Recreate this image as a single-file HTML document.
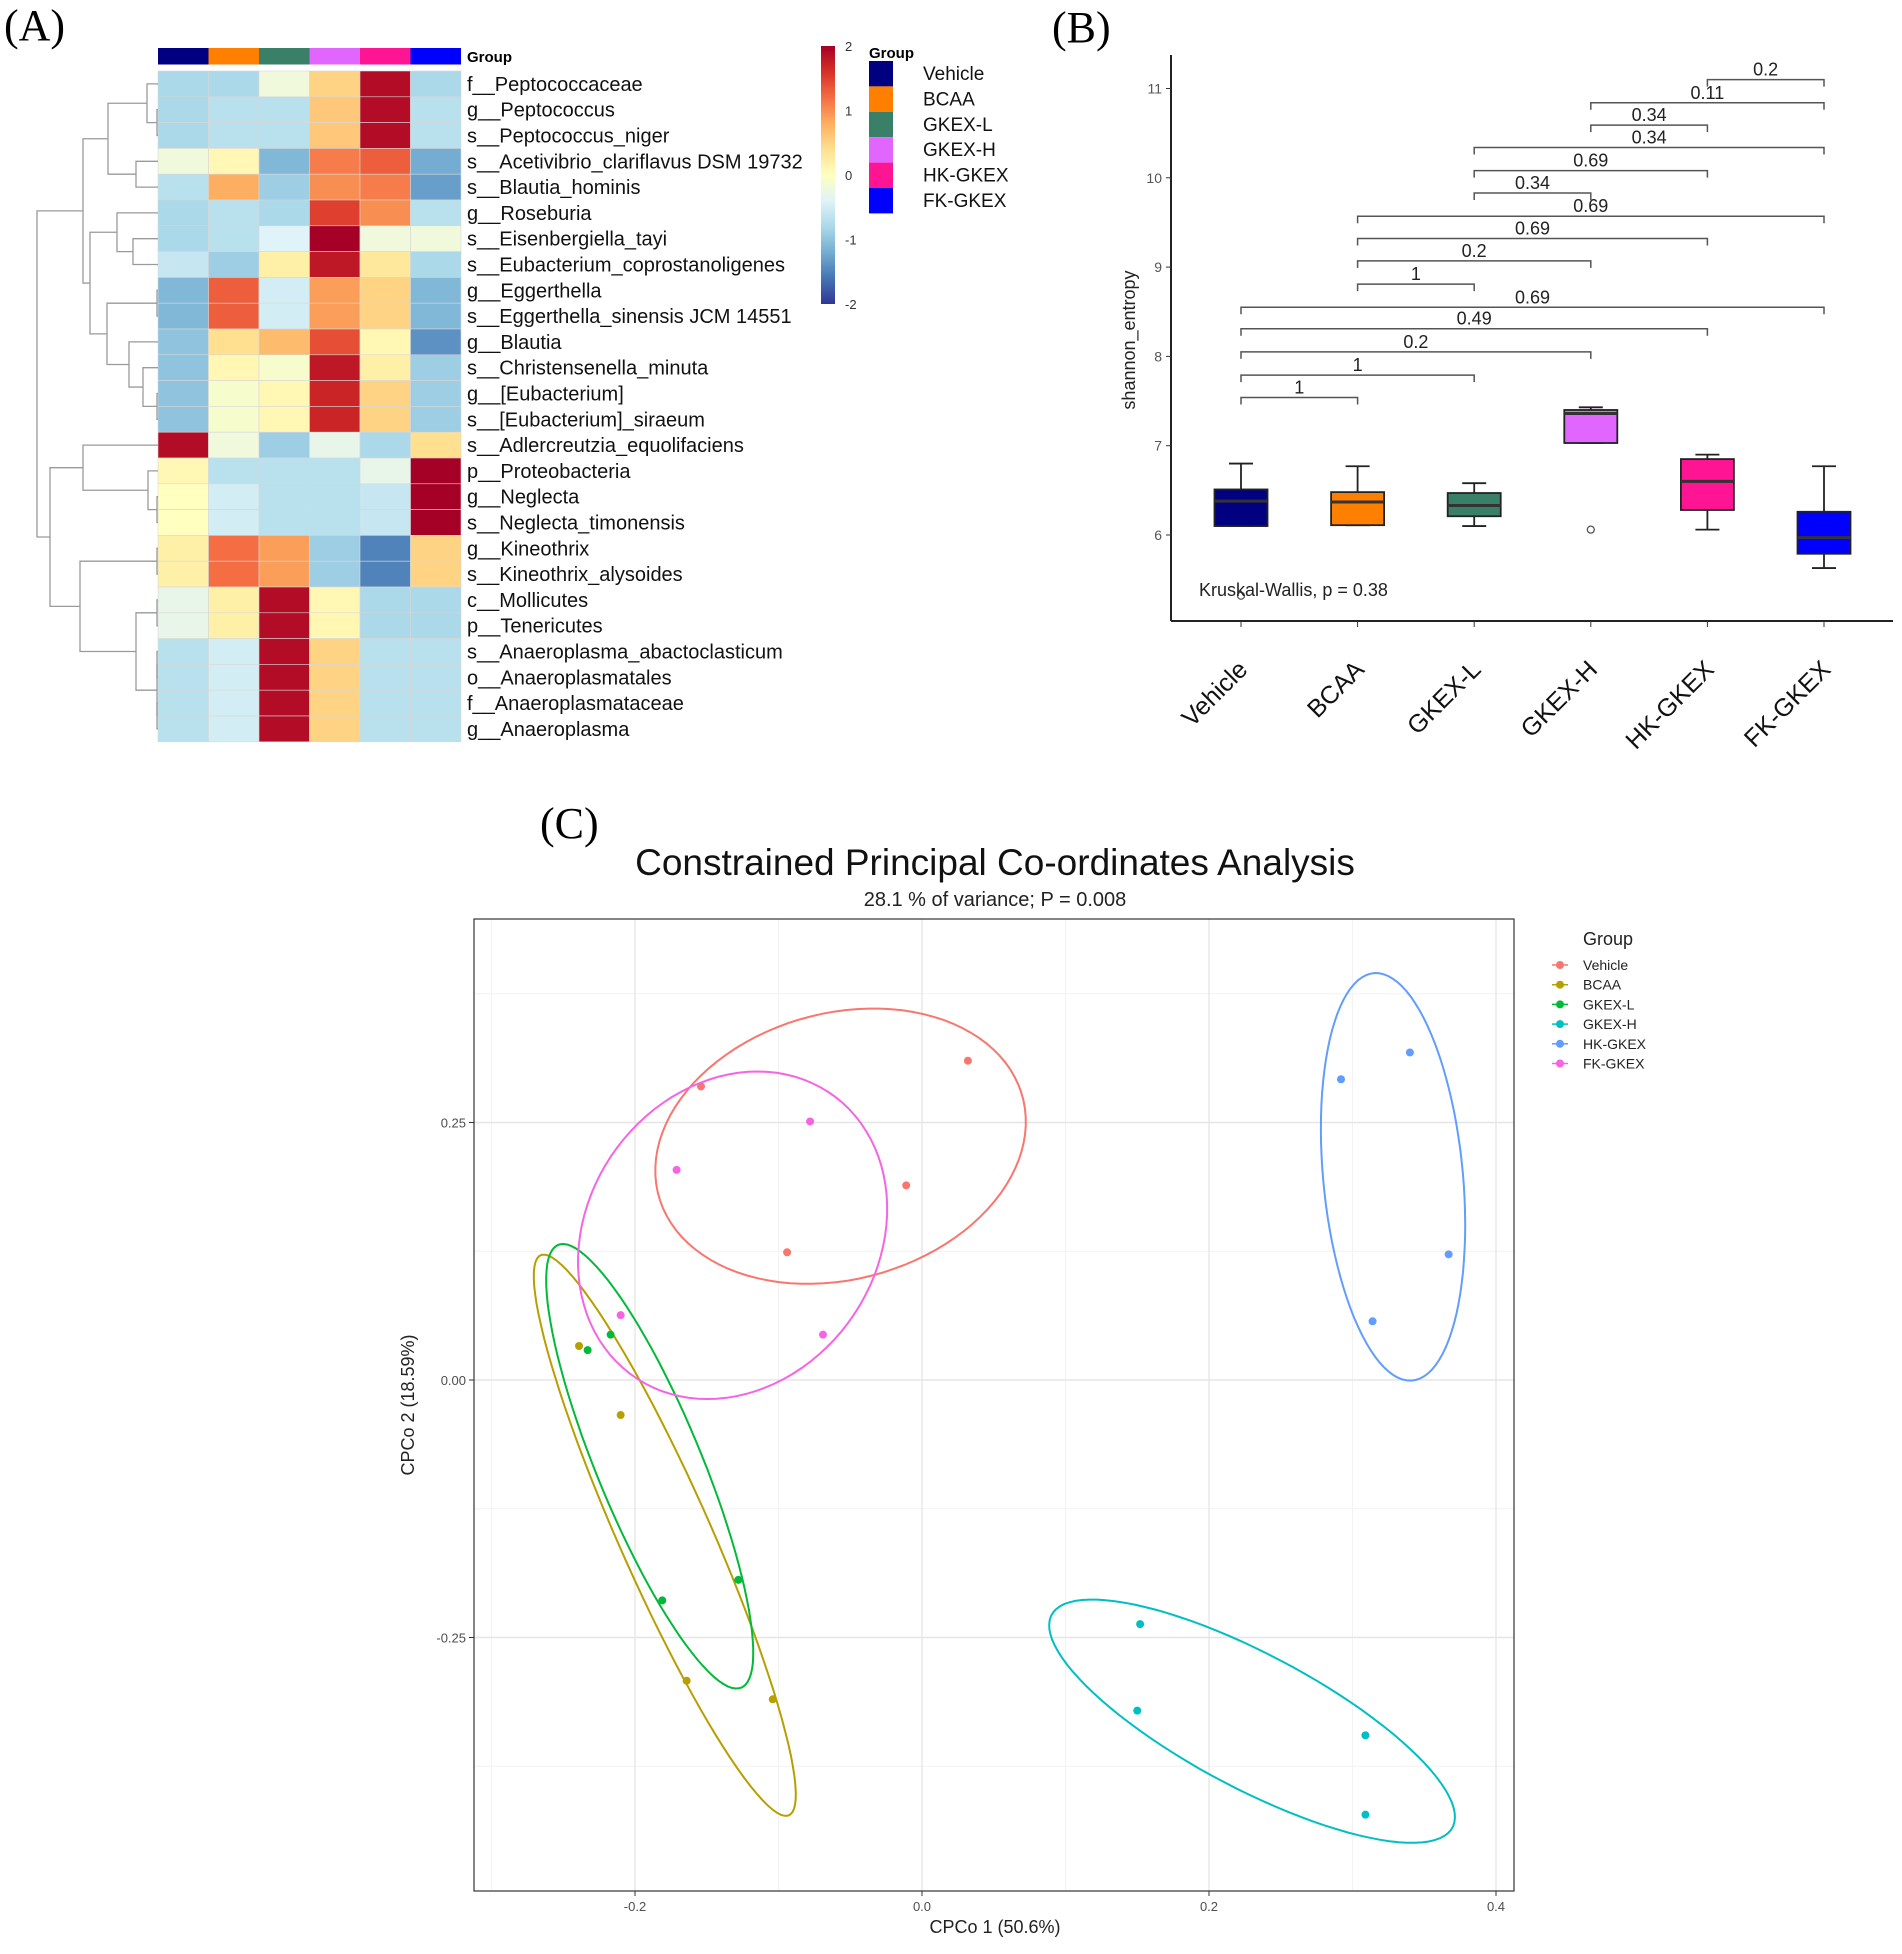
<!DOCTYPE html>
<html><head><meta charset="utf-8"><style>
html,body{margin:0;padding:0;background:#fff;}
svg text{font-family:"Liberation Sans",sans-serif;}
</style></head><body>
<svg id="fig" width="1902" height="1949" viewBox="0 0 1902 1949" xmlns="http://www.w3.org/2000/svg">
<rect width="1902" height="1949" fill="#fff"/>
<text x="4" y="40" style="font-family:'Liberation Serif',serif" font-size="44">(A)</text>
<text x="1052" y="42" style="font-family:'Liberation Serif',serif" font-size="44">(B)</text>
<text x="540" y="838" style="font-family:'Liberation Serif',serif" font-size="44">(C)</text>
<g id="pa"></g>
<g id="pb"></g>
<g id="pc"></g>
</svg>
<script>
// ---------- Panel A data ----------
const hmGroups = ["Vehicle","BCAA","GKEX-L","GKEX-H","HK-GKEX","FK-GKEX"];
const hmGroupColors = ["#000080","#FF7F00","#3A8068","#E066FF","#FF1493","#0000FF"];
const hmRows = ["f__Peptococcaceae","g__Peptococcus","s__Peptococcus_niger","s__Acetivibrio_clariflavus DSM 19732","s__Blautia_hominis","g__Roseburia","s__Eisenbergiella_tayi","s__Eubacterium_coprostanoligenes","g__Eggerthella","s__Eggerthella_sinensis JCM 14551","g__Blautia","s__Christensenella_minuta","g__[Eubacterium]","s__[Eubacterium]_siraeum","s__Adlercreutzia_equolifaciens","p__Proteobacteria","g__Neglecta","s__Neglecta_timonensis","g__Kineothrix","s__Kineothrix_alysoides","c__Mollicutes","p__Tenericutes","s__Anaeroplasma_abactoclasticum","o__Anaeroplasmatales","f__Anaeroplasmataceae","g__Anaeroplasma"];
const hmValues = [
[-0.8,-0.8,-0.2,0.5,1.9,-0.8],
[-0.8,-0.7,-0.7,0.6,1.9,-0.7],
[-0.8,-0.7,-0.7,0.6,1.9,-0.7],
[-0.2,0.1,-1.1,1.1,1.3,-1.2],
[-0.7,0.8,-0.9,1.0,1.1,-1.3],
[-0.8,-0.7,-0.8,1.5,1.0,-0.7],
[-0.8,-0.7,-0.4,2.0,-0.2,-0.2],
[-0.6,-0.9,0.2,1.8,0.3,-0.8],
[-1.1,1.3,-0.5,0.9,0.5,-1.1],
[-1.1,1.3,-0.5,0.9,0.5,-1.1],
[-1.0,0.4,0.7,1.4,0.1,-1.4],
[-1.0,0.1,-0.1,1.8,0.2,-0.9],
[-1.0,-0.1,0.1,1.7,0.5,-0.9],
[-1.0,-0.1,0.1,1.7,0.5,-0.9],
[1.9,-0.2,-0.9,-0.3,-0.8,0.4],
[0.1,-0.7,-0.7,-0.7,-0.3,2.0],
[0.0,-0.5,-0.7,-0.7,-0.6,2.0],
[0.0,-0.5,-0.7,-0.7,-0.6,2.0],
[0.2,1.2,0.9,-0.9,-1.5,0.5],
[0.2,1.2,0.9,-0.9,-1.5,0.5],
[-0.3,0.2,1.9,0.1,-0.8,-0.8],
[-0.3,0.2,1.9,0.1,-0.8,-0.8],
[-0.7,-0.5,1.9,0.5,-0.7,-0.7],
[-0.7,-0.5,1.9,0.5,-0.7,-0.7],
[-0.7,-0.5,1.9,0.5,-0.7,-0.7],
[-0.7,-0.5,1.9,0.5,-0.7,-0.7]];
const cbTicks = [2,1,0,-1,-2];
const hmTree = [37,
 [83,[108,[147,0,[157,1,2]],[136,3,4]],[90,[117,5,[133,6,7]],[107,[157,8,9],[129,10,[143,11,[157,12,13]]]]]],
 [50,[83,14,[148,15,[157,16,17]]],[80,[157,18,19],[136,[157,20,21],[157,[157,22,23],[157,24,25]]]]]];

// ---------- Panel B data ----------
const bxGroups = ["Vehicle","BCAA","GKEX-L","GKEX-H","HK-GKEX","FK-GKEX"];
const bxColors = ["#000080","#FF7F00","#3A8068","#E066FF","#FF1493","#0000FF"];
const bxLow = [6.10,6.11,6.10,7.03,6.06,5.63];
const bxQ1 = [6.10,6.11,6.21,7.03,6.28,5.79];
const bxMed = [6.38,6.37,6.33,7.36,6.60,5.97];
const bxQ3 = [6.51,6.48,6.47,7.40,6.85,6.26];
const bxHigh = [6.80,6.77,6.58,7.43,6.90,6.77];
const bxOutGroup = [0,3];
const bxOutVal = [5.32,6.06];
const yTicksB = [6,7,8,9,10,11];
const brFrom = [0,0,0,0,0,1,1,1,1,2,2,2,3,3,4];
const brTo   = [1,2,3,4,5,2,3,4,5,3,4,5,4,5,5];
const brY    = [7.54,7.79,8.05,8.31,8.55,8.81,9.07,9.32,9.57,9.83,10.08,10.34,10.59,10.84,11.10];
const brLabel= ["1","1","0.2","0.49","0.69","1","0.2","0.69","0.69","0.34","0.69","0.34","0.34","0.11","0.2"];

// ---------- Panel C data ----------
const cGroups = ["Vehicle","BCAA","GKEX-L","GKEX-H","HK-GKEX","FK-GKEX"];
const cColors = ["#F8766D","#B79F00","#00BA38","#00BFC4","#619CFF","#F564E3"];
const cX = [
 [-0.154,0.032,-0.011,-0.094],
 [-0.239,-0.210,-0.164,-0.104],
 [-0.233,-0.217,-0.181,-0.128],
 [0.152,0.150,0.309,0.309],
 [0.292,0.340,0.367,0.314],
 [-0.078,-0.171,-0.210,-0.069]];
const cY = [
 [0.285,0.310,0.189,0.124],
 [0.033,-0.034,-0.292,-0.310],
 [0.029,0.044,-0.214,-0.194],
 [-0.237,-0.321,-0.345,-0.422],
 [0.292,0.318,0.122,0.057],
 [0.251,0.204,0.063,0.044]];
const cXTicks = [-0.2,0.0,0.2,0.4];
const cXTickLabels = ["-0.2","0.0","0.2","0.4"];
const cYTicks = [0.25,0.0,-0.25];
const cYTickLabels = ["0.25","0.00","-0.25"];

const NS="http://www.w3.org/2000/svg";
function mk(parent,tag,attrs,txt){const e=document.createElementNS(NS,tag);for(const k in attrs)e.setAttribute(k,attrs[k]);if(txt!==undefined)e.textContent=txt;parent.appendChild(e);return e;}

// ===== Panel A =====
(function(){
 const g=document.getElementById('pa');
 const x0=158,cw=50.5,y0=71,rh=25.8;
 const stops=["#313695","#4575B4","#74ADD1","#ABD9E9","#E0F3F8","#FFFFBF","#FEE090","#FDAE61","#F46D43","#D73027","#A50026"];
 function hex(c){return [parseInt(c.substr(1,2),16),parseInt(c.substr(3,2),16),parseInt(c.substr(5,2),16)];}
 function col(v){let t=(Math.max(-2,Math.min(2,v))+2)/4*(stops.length-1);let i=Math.min(stops.length-2,Math.floor(t));let f=t-i;const a=hex(stops[i]),b=hex(stops[i+1]);return "rgb("+a.map((q,k)=>Math.round(q+(b[k]-q)*f)).join(",")+")";}
 hmGroups.forEach((n,j)=>{const r=mk(g,'rect',{x:x0+j*cw,y:48,width:cw,height:16.5,fill:hmGroupColors[j]});
  
  });
 const gl=mk(g,'text',{x:467,y:62,'font-size':15,'font-weight':'bold'},'Group');
 
 hmValues.forEach((row,i)=>{row.forEach((v,j)=>{
  const r=mk(g,'rect',{x:x0+j*cw,y:y0+i*rh,width:cw,height:rh,fill:col(v),stroke:'#d8d8d8','stroke-width':0.6});
  
  });
  const t=mk(g,'text',{x:467,y:y0+i*rh+rh/2+7,'font-size':20,fill:'#111'},hmRows[i]);
  
  });
 const yc=i=>y0+rh*(i+0.5);
 function draw(n){ if(typeof n==='number') return {x:x0,y:yc(n)};
  const a=draw(n[1]),b=draw(n[2]),h=n[0];
  const p=mk(g,'path',{d:`M${a.x},${a.y}H${h}V${b.y}H${b.x}`,fill:'none',stroke:'#9a9a9a','stroke-width':1.3});
  
  
  return {x:h,y:(a.y+b.y)/2};}
 draw(hmTree);
 const cbTop=46,cbBot=304;
 const defs=mk(g,'defs',{});const lg=mk(defs,'linearGradient',{id:'cbg',x1:0,y1:1,x2:0,y2:0});
 stops.forEach((s,i)=>mk(lg,'stop',{offset:i/(stops.length-1),'stop-color':s}));
 const cb=mk(g,'rect',{x:821,y:cbTop,width:14,height:cbBot-cbTop,fill:'url(#cbg)'});
 
 cbTicks.forEach(v=>{const t=mk(g,'text',{x:845,y:cbTop+(2-v)/4*(cbBot-cbTop)+5,'font-size':13,fill:'#333'},String(v));
  });
 const lt=mk(g,'text',{x:869,y:58,'font-size':15,'font-weight':'bold'},'Group');
 
 hmGroups.forEach((n,j)=>{const y=61+j*25.4;
  const r=mk(g,'rect',{x:869,y:y,width:24,height:25.4,fill:hmGroupColors[j]});
  
  const t=mk(g,'text',{x:923,y:y+19,'font-size':19,fill:'#111'},n);
  });
})();

// ===== Panel B =====
(function(){
 const g=document.getElementById('pb');
 const ax=1171,axBot=621;
 const X=i=>1241+i*116.6;
 const Y=v=>535-(v-6)*89.3;
 const a1=mk(g,'line',{x1:ax,y1:55,x2:ax,y2:axBot,stroke:'#222','stroke-width':2});
 
 const a2=mk(g,'line',{x1:ax,y1:axBot,x2:1893,y2:axBot,stroke:'#222','stroke-width':2});
 
 yTicksB.forEach(v=>{mk(g,'line',{x1:ax-5,y1:Y(v),x2:ax,y2:Y(v),stroke:'#333'});
  const t=mk(g,'text',{x:ax-9,y:Y(v)+5,'font-size':14,fill:'#555','text-anchor':'end'},String(v));
  });
 const yt=mk(g,'text',{x:0,y:0,'font-size':18,fill:'#222','text-anchor':'middle',transform:'translate(1135,340) rotate(-90)'},'shannon_entropy');
 
 bxGroups.forEach((n,i)=>{const x=X(i),w=53;
  mk(g,'line',{x1:x,y1:axBot,x2:x,y2:axBot+6,stroke:'#333'});
  const t=mk(g,'text',{x:0,y:0,'font-size':25,fill:'#111','text-anchor':'end',transform:`translate(${x+8},${axBot+50}) rotate(-45)`},n);
  
  mk(g,'line',{x1:x,y1:Y(bxHigh[i]),x2:x,y2:Y(bxQ3[i]),stroke:'#222','stroke-width':1.8});
  mk(g,'line',{x1:x,y1:Y(bxLow[i]),x2:x,y2:Y(bxQ1[i]),stroke:'#222','stroke-width':1.8});
  mk(g,'line',{x1:x-12,y1:Y(bxHigh[i]),x2:x+12,y2:Y(bxHigh[i]),stroke:'#222','stroke-width':1.8});
  mk(g,'line',{x1:x-12,y1:Y(bxLow[i]),x2:x+12,y2:Y(bxLow[i]),stroke:'#222','stroke-width':1.8});
  const b=mk(g,'rect',{x:x-w/2,y:Y(bxQ3[i]),width:w,height:Y(bxQ1[i])-Y(bxQ3[i]),fill:bxColors[i],stroke:'#222','stroke-width':1.8});
  
  const m=mk(g,'line',{x1:x-w/2,y1:Y(bxMed[i]),x2:x+w/2,y2:Y(bxMed[i]),stroke:'#333','stroke-width':3});
  });
 bxOutGroup.forEach((gi,k)=>{const c=mk(g,'circle',{cx:X(gi),cy:Y(bxOutVal[k]),r:3.5,fill:'none',stroke:'#555','stroke-width':1.3});
  });
 brY.forEach((v,k)=>{const xa=X(brFrom[k]),xb=X(brTo[k]),y=Y(v);
  const p=mk(g,'path',{d:`M${xa},${y+7}V${y}H${xb}V${y+7}`,fill:'none',stroke:'#555','stroke-width':1.5});
  
  const t=mk(g,'text',{x:(xa+xb)/2,y:y-4,'font-size':18,fill:'#222','text-anchor':'middle'},brLabel[k]);
  });
 const kw=mk(g,'text',{x:1199,y:596,'font-size':18,fill:'#222'},'Kruskal-Wallis, p = 0.38');
 
})();

// ===== Panel C =====
(function(){
 const g=document.getElementById('pc');
 const L=474,R=1514,T=919,B=1891;
 const X=v=>922+v*1435, Y=v=>1380-v*1030;
 const t1=mk(g,'text',{x:995,y:875,'font-size':37,fill:'#111','text-anchor':'middle'},'Constrained Principal Co-ordinates Analysis');
 
 const t2=mk(g,'text',{x:995,y:906,'font-size':20,fill:'#222','text-anchor':'middle'},'28.1 % of variance; P = 0.008');
 
 [-0.3,-0.1,0.1,0.3].forEach(v=>mk(g,'line',{x1:X(v),y1:T,x2:X(v),y2:B,stroke:'#f2f2f2','stroke-width':1}));
 [0.375,0.125,-0.125,-0.375].forEach(v=>mk(g,'line',{x1:L,y1:Y(v),x2:R,y2:Y(v),stroke:'#f2f2f2','stroke-width':1}));
 cXTicks.forEach((v,k)=>{mk(g,'line',{x1:X(v),y1:T,x2:X(v),y2:B,stroke:'#e6e6e6','stroke-width':1.4});
  mk(g,'line',{x1:X(v),y1:B,x2:X(v),y2:B+5,stroke:'#333'});
  const t=mk(g,'text',{x:X(v),y:B+20,'font-size':13,fill:'#4d4d4d','text-anchor':'middle'},cXTickLabels[k]);
  });
 cYTicks.forEach((v,k)=>{mk(g,'line',{x1:L,y1:Y(v),x2:R,y2:Y(v),stroke:'#e6e6e6','stroke-width':1.4});
  mk(g,'line',{x1:L-5,y1:Y(v),x2:L,y2:Y(v),stroke:'#333'});
  const t=mk(g,'text',{x:L-8,y:Y(v)+5,'font-size':13,fill:'#4d4d4d','text-anchor':'end'},cYTickLabels[k]);
  });
 const fr=mk(g,'rect',{x:L,y:T,width:R-L,height:B-T,fill:'none',stroke:'#333','stroke-width':1.2});
 
 const xt=mk(g,'text',{x:995,y:1933,'font-size':18,fill:'#222','text-anchor':'middle'},'CPCo 1 (50.6%)');
 
 const yt=mk(g,'text',{x:0,y:0,'font-size':18,fill:'#222','text-anchor':'middle',transform:'translate(414,1405) rotate(-90)'},'CPCo 2 (18.59%)');
 
 const k=1.55;
 cGroups.forEach((n,gi)=>{const xs=cX[gi],ys=cY[gi],m=xs.length;
  const mx=xs.reduce((a,b)=>a+b)/m,my=ys.reduce((a,b)=>a+b)/m;
  let sxx=0,syy=0,sxy=0;for(let i=0;i<m;i++){sxx+=(xs[i]-mx)**2;syy+=(ys[i]-my)**2;sxy+=(xs[i]-mx)*(ys[i]-my);}
  sxx/=m-1;syy/=m-1;sxy/=m-1;
  const tr=(sxx+syy)/2,dt=Math.sqrt(((sxx-syy)/2)**2+sxy*sxy);
  const l1=tr+dt,l2=Math.max(0,tr-dt);const th=Math.atan2(l1-sxx,sxy||1e-12);
  const c=Math.cos(th),s=Math.sin(th),r1=k*Math.sqrt(l1),r2=k*Math.sqrt(l2);
  let d='';for(let a=0;a<=100;a++){const t=a/100*2*Math.PI;const u=r1*Math.cos(t),w=r2*Math.sin(t);
   const px=X(mx+u*c-w*s),py=Y(my+u*s+w*c);d+=(a?'L':'M')+px.toFixed(1)+','+py.toFixed(1);}
  const e=mk(g,'path',{d:d+'Z',fill:'none',stroke:cColors[gi],'stroke-width':2});
  
  for(let i=0;i<m;i++){const p=mk(g,'circle',{cx:X(xs[i]),cy:Y(ys[i]),r:4,fill:cColors[gi]});
   }
 });
 const lt=mk(g,'text',{x:1583,y:945,'font-size':18,fill:'#222'},'Group');
 
 cGroups.forEach((n,i)=>{const y=965+i*19.7;
  mk(g,'line',{x1:1552,y1:y,x2:1568,y2:y,stroke:cColors[i],'stroke-width':1.5});
  mk(g,'circle',{cx:1560,cy:y,r:4,fill:cColors[i]});
  const t=mk(g,'text',{x:1583,y:y+5,'font-size':14,fill:'#222'},n);
  });
})();
</script>
</body></html>
